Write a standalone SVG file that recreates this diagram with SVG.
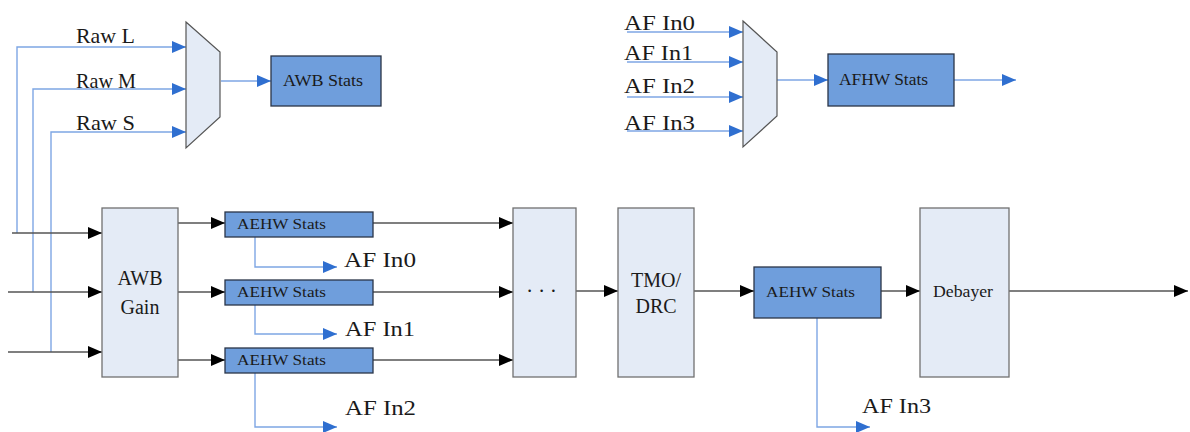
<svg xmlns="http://www.w3.org/2000/svg" width="1190" height="432" viewBox="0 0 1190 432">
<style>
text{font-family:"Liberation Serif","Times New Roman",serif;fill:#1a1a1a}
.lbl{font-size:21px}
.sm{font-size:15px}
.box{fill:#6f9edc;stroke:#2a3548;stroke-width:1.3}
.lt{fill:#e4ebf6;stroke:#707070;stroke-width:1.3}
.mux{fill:#e4ebf6;stroke:#555;stroke-width:1.2}
.bl{fill:none;stroke:#7ea6e4;stroke-width:1.4}
.bk{fill:none;stroke:#555;stroke-width:1.3}
</style>
<defs>
<marker id="ak" markerUnits="userSpaceOnUse" markerWidth="15" markerHeight="14" refX="14" refY="7" orient="auto"><path d="M0,1 L14,7 L0,13 z" fill="#000"/></marker>
<marker id="ab" markerUnits="userSpaceOnUse" markerWidth="15" markerHeight="14" refX="14" refY="7" orient="auto"><path d="M0,1 L14,7 L0,13 z" fill="#2f6fd0"/></marker>
</defs>
<g id="connectors">
<path class="bl" d="M17,233 V47 H186" marker-end="url(#ab)"/>
<path class="bl" d="M33,292 V89 H186" marker-end="url(#ab)"/>
<path class="bl" d="M51,352 V132 H186" marker-end="url(#ab)"/>
<path class="bl" d="M221,81 H271" marker-end="url(#ab)"/>
<path class="bl" d="M627,32 H743" marker-end="url(#ab)"/>
<path class="bl" d="M627,62 H743" marker-end="url(#ab)"/>
<path class="bl" d="M627,97 H743" marker-end="url(#ab)"/>
<path class="bl" d="M627,131 H743" marker-end="url(#ab)"/>
<path class="bl" d="M777,80 H828" marker-end="url(#ab)"/>
<path class="bl" d="M954,80 H1016" marker-end="url(#ab)"/>
<path class="bk" d="M12,233 H102" marker-end="url(#ak)"/>
<path class="bk" d="M8,292 H102" marker-end="url(#ak)"/>
<path class="bk" d="M8,352 H102" marker-end="url(#ak)"/>
<path class="bk" d="M178,223 H225" marker-end="url(#ak)"/>
<path class="bk" d="M178,292 H225" marker-end="url(#ak)"/>
<path class="bk" d="M178,360 H225" marker-end="url(#ak)"/>
<path class="bl" d="M255,237 V267 H337" marker-end="url(#ab)"/>
<path class="bl" d="M255,305 V334 H337" marker-end="url(#ab)"/>
<path class="bl" d="M255,373 V427 H337" marker-end="url(#ab)"/>
<path class="bk" d="M373,223 H513" marker-end="url(#ak)"/>
<path class="bk" d="M373,292 H513" marker-end="url(#ak)"/>
<path class="bk" d="M373,360 H513" marker-end="url(#ak)"/>
<path class="bk" d="M576,291 H618" marker-end="url(#ak)"/>
<path class="bk" d="M694,291 H754" marker-end="url(#ak)"/>
<path class="bk" d="M881,291 H920" marker-end="url(#ak)"/>
<path class="bk" d="M1009,291 H1188" marker-end="url(#ak)"/>
<path class="bl" d="M817,318 V427 H870" marker-end="url(#ab)"/>
</g>
<g id="labels">
<text class="lbl" x="76" y="43" textLength="59" lengthAdjust="spacingAndGlyphs">Raw L</text>
<text class="lbl" x="76" y="88" textLength="60" lengthAdjust="spacingAndGlyphs">Raw M</text>
<text class="lbl" x="76" y="130" textLength="59" lengthAdjust="spacingAndGlyphs">Raw S</text>
<text class="lbl" x="624" y="30" textLength="71" lengthAdjust="spacingAndGlyphs">AF In0</text>
<text class="lbl" x="624" y="60" textLength="69" lengthAdjust="spacingAndGlyphs">AF In1</text>
<text class="lbl" x="624" y="93" textLength="71" lengthAdjust="spacingAndGlyphs">AF In2</text>
<text class="lbl" x="624" y="130" textLength="71" lengthAdjust="spacingAndGlyphs">AF In3</text>
<text class="lbl" x="344" y="267" textLength="72" lengthAdjust="spacingAndGlyphs">AF In0</text>
<text class="lbl" x="345" y="336" textLength="70" lengthAdjust="spacingAndGlyphs">AF In1</text>
<text class="lbl" x="345" y="415" textLength="71" lengthAdjust="spacingAndGlyphs">AF In2</text>
<text class="lbl" x="862" y="413" textLength="69" lengthAdjust="spacingAndGlyphs">AF In3</text>
</g>
<g id="mux-awb"><path class="mux" d="M186,22 L220,52 L220,117 L186,148 Z"/></g>
<g id="mux-af"><path class="mux" d="M743,21 L777,52 L777,116 L743,147 Z"/></g>
<g id="awb-stats"><rect class="box" x="271" y="56" width="110" height="50"/><text class="sm" x="283" y="86" textLength="80" lengthAdjust="spacingAndGlyphs" style="font-size:16px">AWB Stats</text></g>
<g id="afhw-stats"><rect class="box" x="828" y="54" width="126" height="52"/><text class="sm" x="839" y="85" textLength="89" lengthAdjust="spacingAndGlyphs" style="font-size:16px">AFHW Stats</text></g>
<g id="awb-gain"><rect class="lt" x="102" y="208" width="76" height="169"/><text class="lbl" x="140" y="285" text-anchor="middle" style="font-size:20px">AWB</text><text class="lbl" x="140" y="314" text-anchor="middle" style="font-size:20px">Gain</text></g>
<g id="aehw1"><rect class="box" x="225" y="212" width="148" height="25"/><text class="sm" x="237" y="229" textLength="89" lengthAdjust="spacingAndGlyphs">AEHW Stats</text></g>
<g id="aehw2"><rect class="box" x="225" y="280" width="148" height="25"/><text class="sm" x="237" y="297" textLength="89" lengthAdjust="spacingAndGlyphs">AEHW Stats</text></g>
<g id="aehw3"><rect class="box" x="225" y="348" width="148" height="25"/><text class="sm" x="237" y="365" textLength="89" lengthAdjust="spacingAndGlyphs">AEHW Stats</text></g>
<g id="dots"><rect class="lt" x="513" y="208" width="63" height="169"/><text class="lbl" x="527" y="292" textLength="29" lengthAdjust="spacing">...</text></g>
<g id="tmo-drc"><rect class="lt" x="618" y="208" width="76" height="169"/><text class="lbl" x="656" y="287" text-anchor="middle" style="font-size:20px">TMO/</text><text class="lbl" x="656" y="313" text-anchor="middle" style="font-size:20px">DRC</text></g>
<g id="aehw4"><rect class="box" x="754" y="267" width="127" height="51"/><text class="sm" x="766" y="297" textLength="89" lengthAdjust="spacingAndGlyphs">AEHW Stats</text></g>
<g id="debayer"><rect class="lt" x="920" y="208" width="89" height="169"/><text class="sm" x="933" y="297" textLength="60" lengthAdjust="spacingAndGlyphs" style="font-size:17px">Debayer</text></g>
</svg>
